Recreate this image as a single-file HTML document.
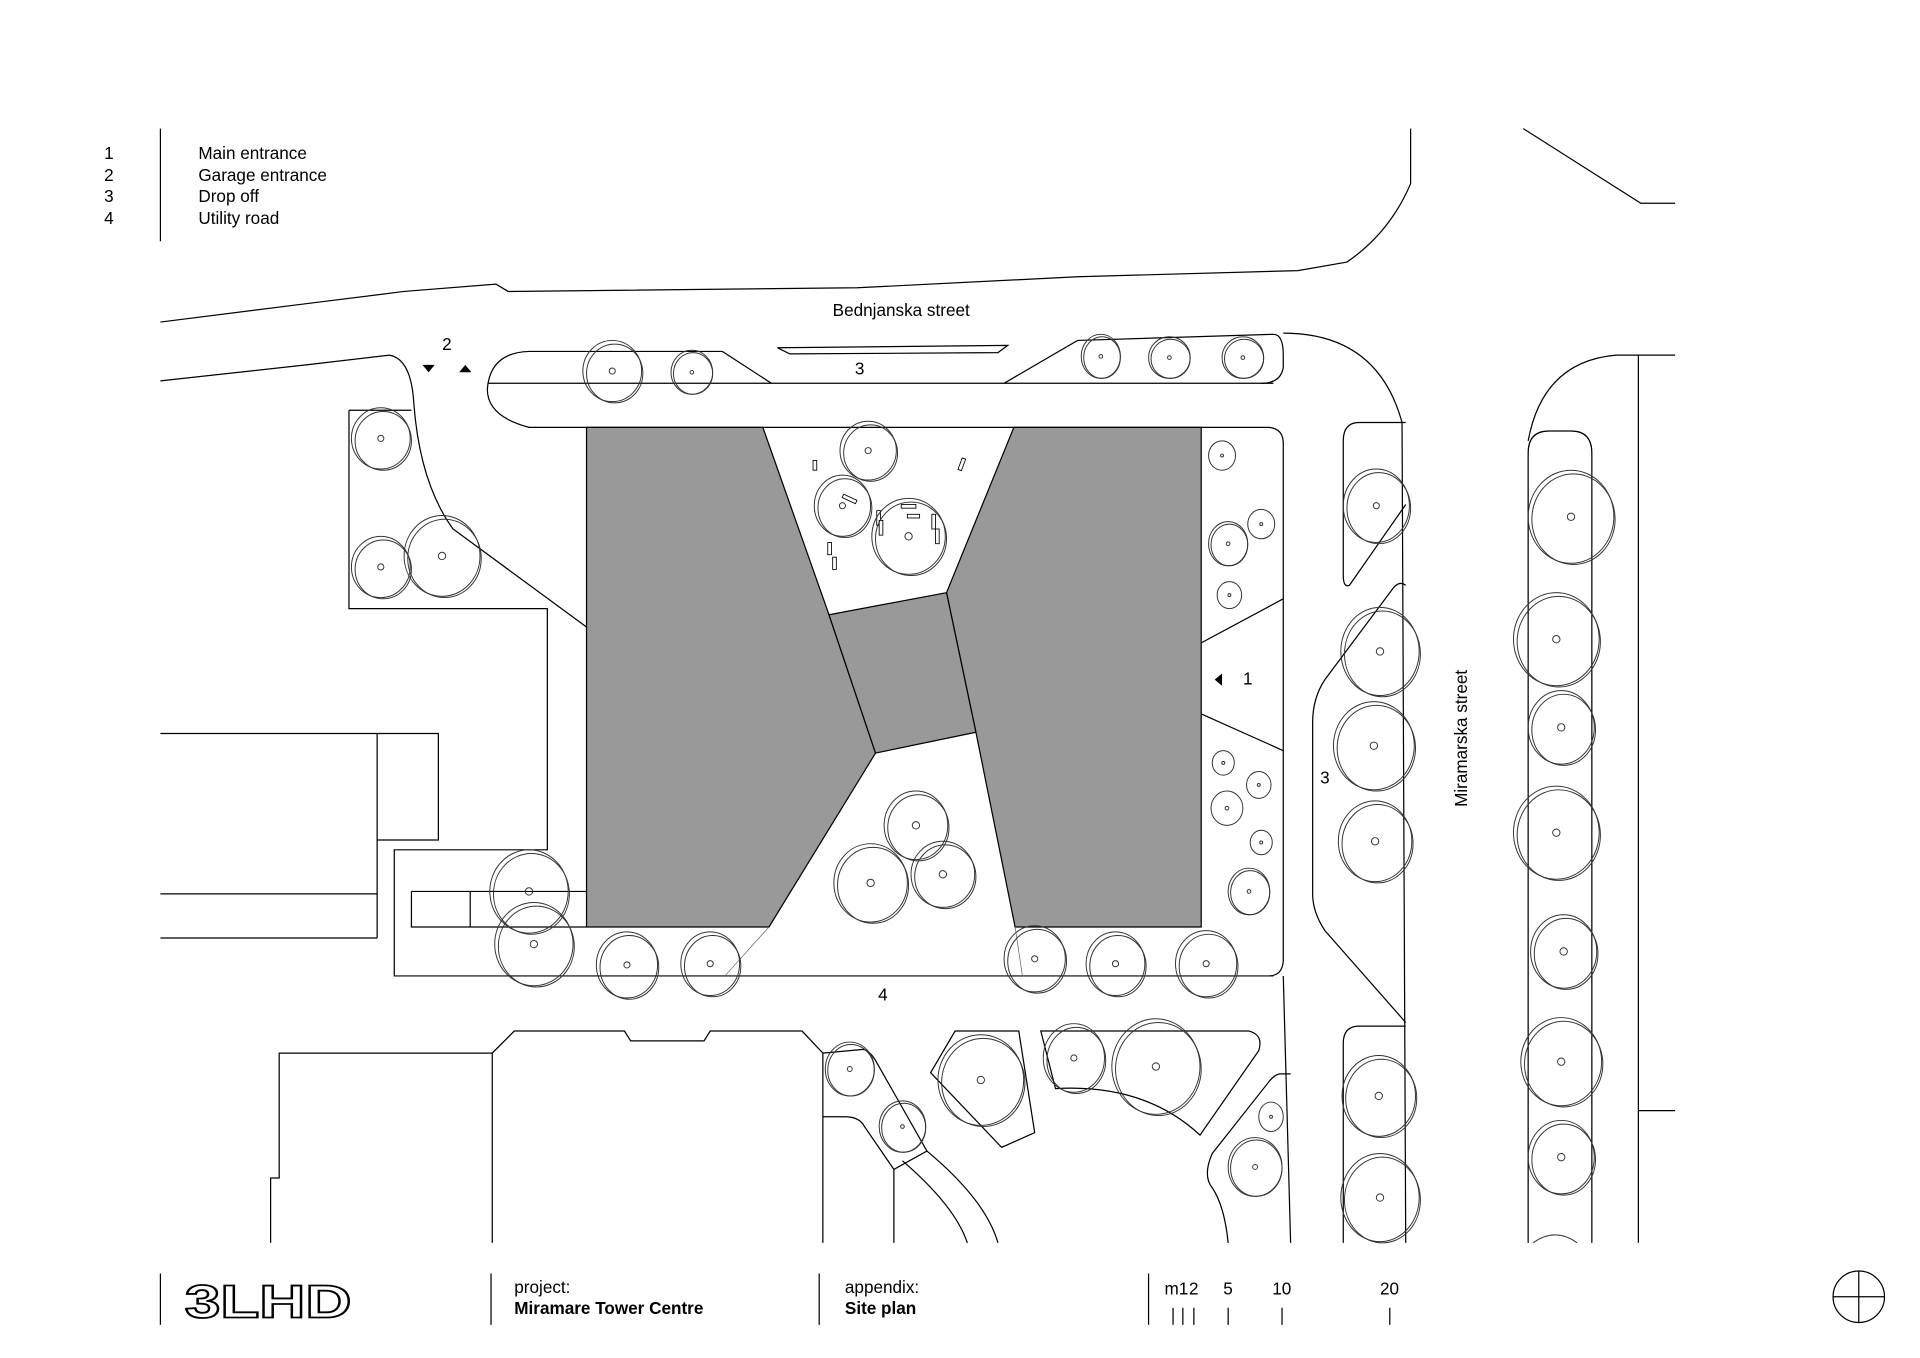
<!DOCTYPE html>
<html><head><meta charset="utf-8"><style>
html,body{margin:0;padding:0;background:#fff;}
svg{display:block;}
text{font-family:"Liberation Sans",Arial,sans-serif;fill:#000;}
</style></head><body>
<svg width="1920" height="1358" viewBox="0 0 1568 1109" xmlns="http://www.w3.org/2000/svg">
<rect width="1568" height="1109" fill="#fff"/>
<g font-size="14">
<text x="85" y="130">1</text><text x="85" y="148">2</text><text x="85" y="165">3</text><text x="85" y="183">4</text>
<text x="162" y="130">Main entrance</text><text x="162" y="148">Garage entrance</text><text x="162" y="165">Drop off</text><text x="162" y="183">Utility road</text>
</g>
<line x1="131" y1="105" x2="131" y2="197" stroke="#000" stroke-width="1"/>

<g fill="#999" stroke="#000" stroke-width="1">
<polygon points="479,349 623,349 677,502 715,615 628,757 479,757"/>
<polygon points="828,349 981,349 981,757 829,757 797,598 773,484"/>
<polygon points="677,502 773,484 797,598 715,615"/>
</g>

<g fill="none" stroke="#000" stroke-width="1">
<path d="M131,263 L250,248 L330,238 L405,232 L415,238 L700,235 L880,226 L1060,221 L1100,214 Q1135,190 1152,150 L1152,105"/>
<path d="M1244,105 L1340,166 L1368,166"/>
<path d="M131,311 L250,298 L318,290 Q336,293 338,330 Q343,395 370,432 L479,512"/>
<path d="M285,335 L336,335 M285,335 L285,497 L447,497 L447,694 L322,694 L322,797 L1040,797"/>
<path d="M479,349 L432,349 Q398,340 398,318 Q400,288 432,287 L590,287 L630,313 M398,313 L1040,313"/>
<path d="M820,313 L880,278 L1040,273 Q1048,273 1048,290 L1048,300 Q1046,313 1030,313"/>
<polygon points="635,284 823,282 815,288 645,289"/>
<path d="M479,349 L1036,349 Q1048,350 1048,362 L1048,785 Q1047,797 1036,797"/>
<path d="M981,525 L1048,489 M981,583 L1048,613"/>
<path d="M1048,272 Q1125,272 1145,345 L1148,1015"/>
<path d="M1148,345 L1110,345 Q1097,345 1097,360 L1097,470 Q1097,480 1102,478 L1148,412"/>
<path d="M1148,478 Q1143,474 1138,480 L1082,555 Q1072,570 1072,590 L1072,730 Q1072,745 1082,760 L1148,835"/>
<path d="M1148,838 L1110,838 Q1097,838 1097,852 L1097,1015"/>
<path d="M1248,360 Q1260,295 1320,290 L1368,290 M1338,290 L1338,1015 M1338,907 L1368,907"/>
<path d="M1248,1015 L1248,370 Q1248,352 1265,352 L1283,352 Q1300,352 1300,370 L1300,1015"/>
<path d="M131,599 L358,599 L358,686 L308,686 M308,599 L308,766 M131,730 L308,730 M131,766 L308,766"/>
<path d="M336,728 L479,728 M336,728 L336,757 L479,757 M384,728 L384,757"/>
<path d="M221,1015 L221,962 L228,962 L228,860 L402,860 L420,842 L510,842 L515,850 L575,850 L580,842 L655,842 L672,860 L672,1015 M402,860 L402,1015"/>
<path d="M672,860 L705,857 Q710,858 715,866 L757,940 L730,955 L706,920 Q702,912 690,912 L672,912"/>
<path d="M730,955 L730,1015 M737,948 Q780,985 790,1015 M757,940 Q805,980 815,1015"/>
<polygon points="760,876 780,842 832,842 845,925 818,937"/>
<path d="M850,842 L1020,842 Q1032,845 1028,858 L980,927 Q935,885 862,889 Z"/>
<path d="M1054,877 L1045,877 Q1040,878 1035,885 L990,942 Q982,960 990,970 Q1000,985 1003,1015"/>
<path d="M1048,797 L1054,1015"/>
<path d="M131,1040 L131,1082 M401,1040 L401,1082 M669,1040 L669,1082 M938,1040 L938,1082"/>
<path d="M958,1068 L958,1082 M966,1068 L966,1082 M975,1068 L975,1082 M1003,1068 L1003,1082 M1047,1068 L1047,1082 M1135,1068 L1135,1082"/>
<circle cx="1518" cy="1059" r="21"/>
<path d="M1518,1038 L1518,1080 M1497,1059 L1539,1059"/>
</g>
<path d="M628,757 L592,797 M829,757 L835,797" fill="none" stroke="#666" stroke-width="0.6"/>

<g fill="#fff" stroke="#000" stroke-width="0.7">
<rect x="664" y="376" width="3" height="8"/><rect x="784" y="374" width="3" height="10" transform="rotate(20 785 379)"/>
<rect x="688" y="406" width="12" height="3" transform="rotate(25 694 407)"/>
<rect x="736" y="412" width="12" height="3"/><rect x="741" y="420" width="10" height="3"/>
<rect x="716" y="417" width="3" height="12"/><rect x="718" y="425" width="3" height="12"/>
<rect x="761" y="420" width="3" height="12"/><rect x="764" y="432" width="3" height="12"/>
<rect x="676" y="443" width="3" height="10"/><rect x="680" y="455" width="3" height="10"/>
</g>

<g fill="none" stroke="#333" stroke-width="0.8">
<ellipse cx="500" cy="303" rx="24" ry="25"/><ellipse cx="502" cy="305" rx="23" ry="24"/><circle cx="500" cy="303" r="2.5"/>
<ellipse cx="565" cy="304" rx="17" ry="18"/><ellipse cx="566" cy="305" rx="16" ry="17"/><circle cx="565" cy="304" r="1.5"/>
<ellipse cx="899" cy="291" rx="16" ry="18"/><ellipse cx="900" cy="292" rx="15" ry="17"/><circle cx="899" cy="291" r="1.5"/>
<ellipse cx="955" cy="292" rx="17" ry="17"/><ellipse cx="956" cy="293" rx="16" ry="16"/><circle cx="955" cy="292" r="1.5"/>
<ellipse cx="1015" cy="292" rx="17" ry="17"/><ellipse cx="1016" cy="293" rx="16" ry="16"/><circle cx="1015" cy="292" r="1.5"/>
<ellipse cx="311" cy="358" rx="24" ry="25"/><ellipse cx="313" cy="360" rx="23" ry="24"/><circle cx="311" cy="358" r="2.5"/>
<ellipse cx="311" cy="463" rx="24" ry="25"/><ellipse cx="313" cy="465" rx="23" ry="24"/><circle cx="311" cy="463" r="2.5"/>
<ellipse cx="361" cy="454" rx="31" ry="33"/><ellipse cx="363" cy="456" rx="30" ry="32"/><circle cx="361" cy="454" r="3"/>
<ellipse cx="709" cy="368" rx="23" ry="24"/><ellipse cx="711" cy="370" rx="22" ry="23"/><circle cx="709" cy="368" r="2.5"/>
<ellipse cx="688" cy="413" rx="23" ry="25"/><ellipse cx="690" cy="415" rx="22" ry="24"/><circle cx="688" cy="413" r="2.5"/>
<ellipse cx="742" cy="438" rx="30" ry="31"/><ellipse cx="744" cy="440" rx="29" ry="30"/><circle cx="742" cy="438" r="3"/>
<ellipse cx="998" cy="372" rx="11" ry="12"/><circle cx="998" cy="372" r="1.2"/>
<ellipse cx="1003" cy="444" rx="16" ry="18"/><ellipse cx="1004" cy="445" rx="15" ry="17"/><circle cx="1003" cy="444" r="1.5"/>
<ellipse cx="1030" cy="428" rx="11" ry="12"/><circle cx="1030" cy="428" r="1.2"/>
<ellipse cx="1004" cy="486" rx="10" ry="11"/><circle cx="1004" cy="486" r="1.2"/>
<ellipse cx="999" cy="623" rx="9" ry="10"/><circle cx="999" cy="623" r="1.2"/>
<ellipse cx="1028" cy="641" rx="10" ry="11"/><circle cx="1028" cy="641" r="1.2"/>
<ellipse cx="1002" cy="660" rx="13" ry="14"/><circle cx="1002" cy="660" r="1.5"/>
<ellipse cx="1030" cy="688" rx="9" ry="10"/><circle cx="1030" cy="688" r="1.2"/>
<ellipse cx="1020" cy="728" rx="17" ry="19"/><ellipse cx="1021" cy="729" rx="16" ry="18"/><circle cx="1020" cy="728" r="1.5"/>
<ellipse cx="748" cy="674" rx="26" ry="28"/><ellipse cx="750" cy="676" rx="25" ry="27"/><circle cx="748" cy="674" r="3"/>
<ellipse cx="711" cy="721" rx="30" ry="32"/><ellipse cx="713" cy="723" rx="29" ry="31"/><circle cx="711" cy="721" r="3"/>
<ellipse cx="770" cy="714" rx="26" ry="27"/><ellipse cx="772" cy="716" rx="25" ry="26"/><circle cx="770" cy="714" r="3"/>
<ellipse cx="432" cy="728" rx="32" ry="34"/><ellipse cx="434" cy="730" rx="31" ry="33"/><circle cx="432" cy="728" r="3"/>
<ellipse cx="436" cy="771" rx="32" ry="34"/><ellipse cx="438" cy="773" rx="31" ry="33"/><circle cx="436" cy="771" r="3"/>
<ellipse cx="512" cy="788" rx="25" ry="27"/><ellipse cx="514" cy="790" rx="24" ry="26"/><circle cx="512" cy="788" r="2.5"/>
<ellipse cx="580" cy="787" rx="24" ry="26"/><ellipse cx="582" cy="789" rx="23" ry="25"/><circle cx="580" cy="787" r="2.5"/>
<ellipse cx="845" cy="783" rx="25" ry="27"/><ellipse cx="847" cy="785" rx="24" ry="26"/><circle cx="845" cy="783" r="2.5"/>
<ellipse cx="911" cy="787" rx="24" ry="26"/><ellipse cx="913" cy="789" rx="23" ry="25"/><circle cx="911" cy="787" r="2.5"/>
<ellipse cx="985" cy="787" rx="25" ry="27"/><ellipse cx="987" cy="789" rx="24" ry="26"/><circle cx="985" cy="787" r="2.5"/>
<ellipse cx="694" cy="873" rx="20" ry="22"/><ellipse cx="695" cy="874" rx="19" ry="21"/><circle cx="694" cy="873" r="2"/>
<ellipse cx="737" cy="920" rx="19" ry="21"/><ellipse cx="738" cy="921" rx="18" ry="20"/><circle cx="737" cy="920" r="1.5"/>
<ellipse cx="801" cy="882" rx="35" ry="37"/><ellipse cx="803" cy="884" rx="34" ry="36"/><circle cx="801" cy="882" r="3"/>
<ellipse cx="877" cy="864" rx="25" ry="28"/><ellipse cx="879" cy="866" rx="24" ry="27"/><circle cx="877" cy="864" r="2.5"/>
<ellipse cx="944" cy="871" rx="36" ry="39"/><ellipse cx="946" cy="873" rx="35" ry="38"/><circle cx="944" cy="871" r="3"/>
<ellipse cx="1038" cy="912" rx="10" ry="12"/><circle cx="1038" cy="912" r="1.2"/>
<ellipse cx="1025" cy="953" rx="22" ry="24"/><ellipse cx="1026" cy="954" rx="21" ry="23"/><circle cx="1025" cy="953" r="2"/>
<ellipse cx="1124" cy="413" rx="27" ry="30"/><ellipse cx="1126" cy="415" rx="26" ry="29"/><circle cx="1124" cy="413" r="2.5"/>
<ellipse cx="1127" cy="532" rx="32" ry="36"/><ellipse cx="1129" cy="534" rx="31" ry="35"/><circle cx="1127" cy="532" r="3"/>
<ellipse cx="1122" cy="609" rx="33" ry="36"/><ellipse cx="1124" cy="611" rx="32" ry="35"/><circle cx="1122" cy="609" r="3"/>
<ellipse cx="1123" cy="687" rx="30" ry="33"/><ellipse cx="1125" cy="689" rx="29" ry="32"/><circle cx="1123" cy="687" r="3"/>
<ellipse cx="1126" cy="895" rx="30" ry="33"/><ellipse cx="1128" cy="897" rx="29" ry="32"/><circle cx="1126" cy="895" r="3"/>
<ellipse cx="1127" cy="978" rx="32" ry="36"/><ellipse cx="1129" cy="980" rx="31" ry="35"/><circle cx="1127" cy="978" r="3"/>
<ellipse cx="1283" cy="422" rx="35" ry="38"/><ellipse cx="1285" cy="424" rx="34" ry="37"/><circle cx="1283" cy="422" r="3"/>
<ellipse cx="1271" cy="522" rx="35" ry="38"/><ellipse cx="1273" cy="524" rx="34" ry="37"/><circle cx="1271" cy="522" r="3"/>
<ellipse cx="1275" cy="594" rx="27" ry="30"/><ellipse cx="1277" cy="596" rx="26" ry="29"/><circle cx="1275" cy="594" r="3"/>
<ellipse cx="1271" cy="680" rx="35" ry="38"/><ellipse cx="1273" cy="682" rx="34" ry="37"/><circle cx="1271" cy="680" r="3"/>
<ellipse cx="1277" cy="777" rx="27" ry="30"/><ellipse cx="1279" cy="779" rx="26" ry="29"/><circle cx="1277" cy="777" r="3"/>
<ellipse cx="1275" cy="867" rx="33" ry="36"/><ellipse cx="1277" cy="869" rx="32" ry="35"/><circle cx="1275" cy="867" r="3"/>
<ellipse cx="1275" cy="945" rx="27" ry="30"/><ellipse cx="1277" cy="947" rx="26" ry="29"/><circle cx="1275" cy="945" r="3"/>
<path d="M1252,1015 Q1270,1002 1288,1015"/>
</g>

<g font-size="14">
<text x="736" y="258" text-anchor="middle">Bednjanska street</text>
<text x="702" y="306" text-anchor="middle">3</text>
<text x="365" y="286" text-anchor="middle">2</text>
<text x="1019" y="559" text-anchor="middle">1</text>
<text x="1082" y="640" text-anchor="middle">3</text>
<text x="721" y="817" text-anchor="middle">4</text>
<text x="0" y="0" text-anchor="middle" transform="translate(1198,603) rotate(-90)">Miramarska street</text>
</g>
<polygon points="345,298 355,298 350,304" fill="#000"/>
<polygon points="375,304 385,304 380,298" fill="#000"/>
<polygon points="998,550 998,560 992,555" fill="#000"/>

<text x="151" y="1076" font-size="38" font-weight="bold" stroke="#000" stroke-width="1.5" textLength="136" lengthAdjust="spacingAndGlyphs" style="fill:#fff">3LHD</text>
<g font-size="14">
<text x="420" y="1056">project:</text>
<text x="420" y="1073" font-weight="bold">Miramare Tower Centre</text>
<text x="690" y="1056">appendix:</text>
<text x="690" y="1073" font-weight="bold">Site plan</text>
<text x="951" y="1057">m1</text><text x="971" y="1057">2</text><text x="999" y="1057">5</text>
<text x="1039" y="1057">10</text><text x="1127" y="1057">20</text>
</g>
</svg>
</body></html>
